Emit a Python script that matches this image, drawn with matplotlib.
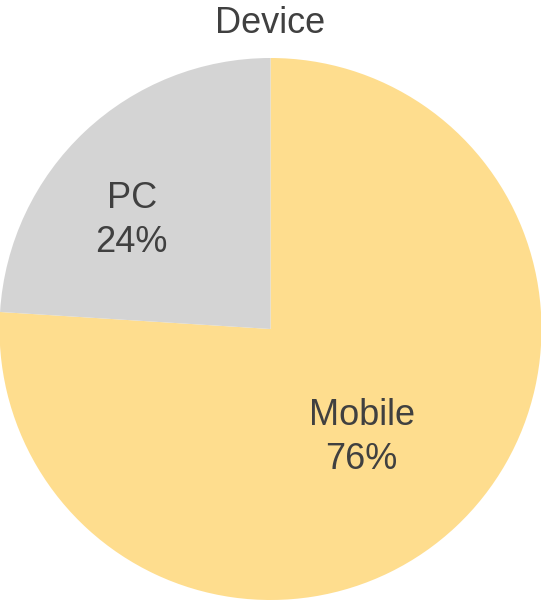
import numpy as np
import matplotlib
matplotlib.use("Agg")
import matplotlib.pyplot as plt

plt.rcParams['font.family'] = ['Liberation Sans', 'DejaVu Sans']

# slice data, drawn clockwise from 12 o'clock
devices = ["Mobile", "PC"]
shares = [76, 24]
colors = ["#FEDD8E", "#D4D4D4"]

# where each label sits: polar angle (deg) and fraction of radius
label_angles = [-50, 142]
label_radii = [0.523, 0.65]

text_color = "#404040"

W, H = 541, 601
fig = plt.figure(figsize=(W / 100, H / 100), dpi=100)
ax = fig.add_axes([-0.5 / W, 1 / H, 542 / W, 542 / H])

wedges, _ = ax.pie(shares, colors=colors, startangle=90, counterclock=False,
                   radius=1, wedgeprops=dict(linewidth=0))
ax.set_xlim(-1, 1)
ax.set_ylim(-1, 1)
ax.set_aspect("equal")
ax.axis("off")

for name, val, ang, r in zip(devices, shares, label_angles, label_radii):
    a = np.deg2rad(ang)
    ax.text(r * np.cos(a), r * np.sin(a), f"{name}\n{val}%",
            ha="center", va="center", fontsize=26, color=text_color,
            linespacing=1.36)

fig.text(0.5, 1 - 33 / H, "Device", ha="center", va="baseline",
         fontsize=26, color=text_color)

fig.savefig("out.png", dpi=100)
